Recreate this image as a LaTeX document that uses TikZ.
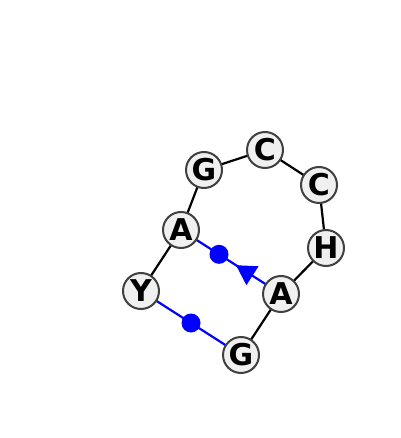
\documentclass[tikz,border=0pt]{standalone}
\usepackage{fontspec}
\setmainfont{DejaVu Sans}
\usetikzlibrary{shapes.geometric,calc}
\definecolor{nodefill}{RGB}{240,240,240}
\definecolor{nodeline}{RGB}{64,64,64}
\begin{document}
\begin{tikzpicture}[x=1pt,y=-1pt,
  base/.style={circle,draw=nodeline,line width=2pt,fill=nodefill,minimum size=36pt,inner sep=0pt,font=\bfseries\fontsize{30}{30}\selectfont},
  bb/.style={line width=2.2pt,black},
  pair/.style={line width=2.2pt,blue},
  dotmark/.style={circle,fill=blue,minimum size=19pt,inner sep=0pt},
  trimark/.style={regular polygon,regular polygon sides=3,fill=blue,minimum size=26pt,inner sep=0pt}]
\useasboundingbox (0,0) rectangle (400,438);
\coordinate (Gt) at (204,170);
\coordinate (Ct) at (265,150);
\coordinate (Cr) at (319,185);
\coordinate (Hr) at (326,248);
\coordinate (Ar) at (281,294);
\coordinate (Gb) at (241,355);
\coordinate (Yl) at (141,291);
\coordinate (Al) at (181,230);
\draw[bb] (Yl) -- (Al) -- (Gt) -- (Ct) -- (Cr) -- (Hr) -- (Ar) -- (Gb);
\draw[pair] (Al) -- (Ar);
\draw[pair] (Yl) -- (Gb);
\node[dotmark] (d1) at ($(Al)!0.38!(Ar)$) {};
\node[trimark,rotate=57.4] (t1) at ($(Al)!0.66!(Ar)$) {};
\node[dotmark] (d2) at ($(Yl)!0.5!(Gb)$) {};
\node[base] (nG1) at (Gt) {G};
\node[base] (nC1) at (Ct) {C};
\node[base] (nC2) at (Cr) {C};
\node[base] (nH) at (Hr) {H};
\node[base] (nA2) at (Ar) {A};
\node[base] (nG2) at (Gb) {G};
\node[base] (nY) at (Yl) {Y};
\node[base] (nA1) at (Al) {A};
\end{tikzpicture}
\end{document}
